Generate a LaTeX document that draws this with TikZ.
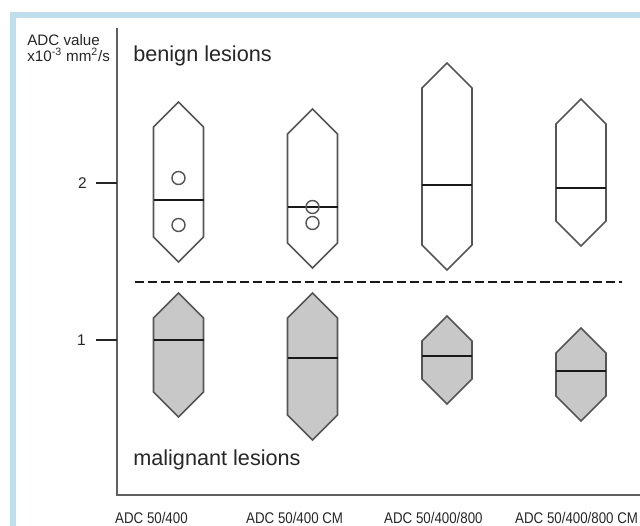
\documentclass[tikz,border=0pt]{standalone}
\usepackage{fontspec}
\setmainfont{Liberation Sans}
\definecolor{framebg}{RGB}{190,222,238}
\definecolor{boxgray}{RGB}{200,200,200}
\definecolor{edgegray}{RGB}{85,85,85}
\definecolor{axisgray}{RGB}{95,95,95}
\tikzset{
	lesionedge/.style={line width=1.1pt, draw=edgegray, line join=miter},
	benignbox/.style={lesionedge, fill=white},
	malignbox/.style={lesionedge, fill=boxgray},
	medianline/.style={line width=2pt, draw=black!90},
	outlier/.style={line width=1pt, draw=edgegray},
	axisline/.style={line width=1.6pt, draw=axisgray},
	ticklabel/.style={anchor=east, inner sep=0pt, font=\fontsize{11}{13}\selectfont, text=black!85},
	unitlabel/.style={anchor=base west, inner sep=0pt, font=\fontsize{10.8}{13}\selectfont, text=black!85},
	catlabel/.style={anchor=base west, inner sep=0pt, xscale=0.86, font=\fontsize{11}{13}\selectfont, text=black!85},
	grouplabel/.style={anchor=base west, inner sep=0pt, font=\fontsize{15.4}{18}\selectfont, text=black!85}
}
% hexagon from top apex #3 to bottom apex #4, median at #5
\def\lesion[#1](#2)(#3:#4:#5){\draw[#1] (#2,#3) -- ({#2+25},{#3+25}) -- ({#2+25},{#4-25}) -- (#2,#4) -- ({#2-25},{#4-25}) -- ({#2-25},{#3+25}) -- cycle; \draw[medianline] ({#2-25},#5) -- ({#2+25},#5);}

\begin{document}
\begin{tikzpicture}[x=0.025cm, y=-0.025cm]
		%%%%% START %%%%%
		\useasboundingbox (0,0) rectangle (640,526);
		
		\fill[framebg] (10,12) rectangle (640,18);
		\fill[framebg] (10,12) rectangle (16,526);
		
		\draw[axisline] (117,28) -- (117,495) -- (640,495);
		\draw[line width=1.4pt, color=black!85] (96,183) -- (117,183);
		\draw[line width=1.4pt, color=black!85] (96,340) -- (117,340);
		\node[ticklabel] (tick2) at (87,183) {2};
		\node[ticklabel] (tick1) at (86,340) {1};
		
		\node[unitlabel] (ylabel) at (27,45) {ADC value};
		\node[unitlabel] (yunit) at (27,61) {x10\textsuperscript{-3} mm\textsuperscript{2}/s};
		\node[grouplabel] (benign) at (133,62) {benign lesions};
		\node[grouplabel] (malignant) at (133,465) {malignant lesions};
		
		\lesion[benignbox](178.5)(102:262:200)
		\draw[outlier] (178.5,178) circle (6.5);
		\draw[outlier] (178.5,225) circle (6.5);
		\lesion[benignbox](312.5)(109:268:207)
		\draw[outlier] (312.5,207) circle (6.5);
		\draw[outlier] (312.5,223) circle (6.5);
		\lesion[benignbox](447)(63:270:185)
		\lesion[benignbox](581)(99:246:188)
		
		\draw[line width=1.9pt, color=black!90, dash pattern=on 6.5pt off 2.8pt] (135,282) -- (622,282);
		
		\lesion[malignbox](178.5)(293:417:340)
		\lesion[malignbox](312.5)(293:440:358)
		\lesion[malignbox](447)(316:404:356)
		\lesion[malignbox](581)(328:421:371)
		
		\node[catlabel] (cat1) at (115,523) {ADC 50/400};
		\node[catlabel] (cat2) at (246,523) {ADC 50/400 CM};
		\node[catlabel] (cat3) at (384,523) {ADC 50/400/800};
		\node[catlabel] (cat4) at (515,523) {ADC 50/400/800 CM};
		%%%%% END %%%%%
\end{tikzpicture}
\end{document}
